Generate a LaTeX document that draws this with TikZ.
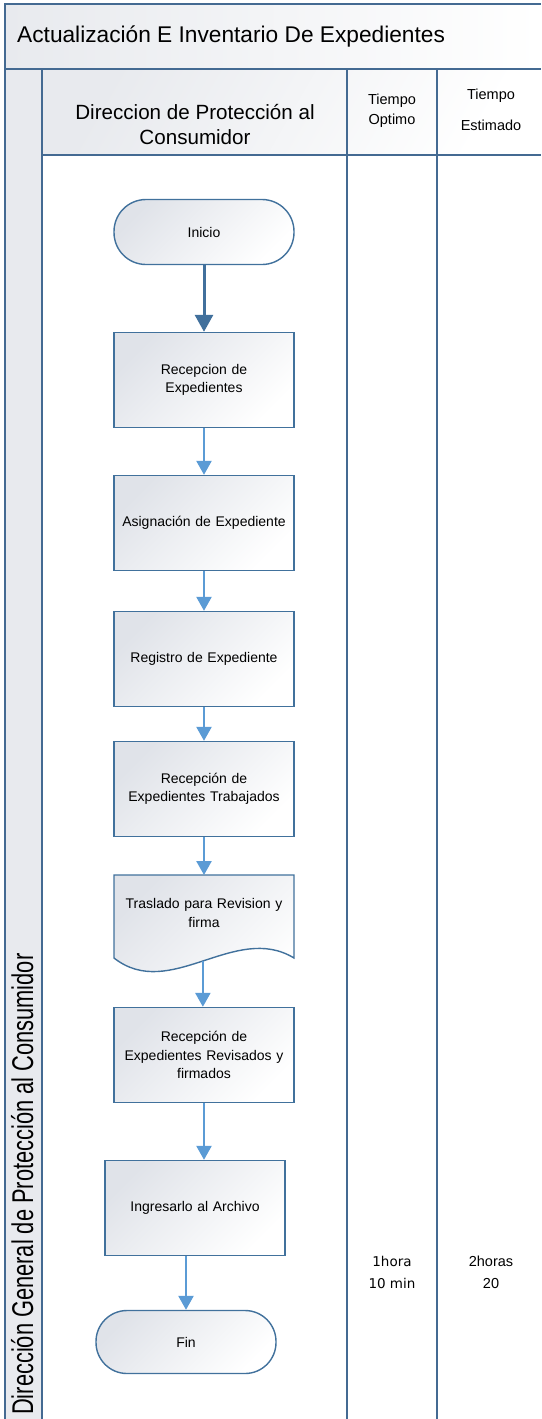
\documentclass[tikz,border=0pt]{standalone}
\usepackage{fontspec}
\setmainfont{Liberation Sans}
\newfontfamily\timefont{DejaVu Sans}
\usetikzlibrary{arrows.meta}
\definecolor{frameblue}{RGB}{68,106,146}
\definecolor{boxedge}{RGB}{65,113,156}
\definecolor{darkarrow}{RGB}{65,112,156}
\definecolor{lightarrow}{RGB}{91,155,213}
\definecolor{shadegray}{RGB}{224,227,233}
\definecolor{bandgray}{RGB}{232,234,238}

\begin{document}
\begin{tikzpicture}[x=1pt,y=-1pt,
  stepbox/.style={draw=boxedge, line width=1.4pt, minimum width=180pt,
    minimum height=95pt, top color=shadegray, bottom color=white,
    shading angle=45, align=center, text width=170pt, inner sep=0pt,
    font=\fontsize{14}{18.5}\selectfont},
  terminal/.style={stepbox, minimum height=65pt, rounded corners=32pt},
  flow/.style={draw=lightarrow, line width=2.5pt,
    -{Triangle[width=15pt,length=14pt]}},
  flowdark/.style={draw=darkarrow, line width=3pt,
    -{Triangle[width=18pt,length=17pt]}},
  frame/.style={draw=frameblue, line width=2pt},
  label/.style={inner sep=0pt, align=center}]

\useasboundingbox (0,0) rectangle (541,1419);

% swimlane backgrounds
\shade[left color=bandgray, right color=white] (5,4) rectangle (541,69);
\shade[top color=bandgray, bottom color=white, shading angle=60] (42,69) rectangle (541,155);
\fill[bandgray] (5,69) rectangle (42,1419);

% swimlane frame
\draw[frame] (5,1419) -- (5,4) -- (541,4);
\draw[frame] (5,69) -- (541,69);
\draw[frame] (42,69) -- (42,1419);
\draw[frame] (42,155) -- (541,155);
\draw[frame] (347,69) -- (347,1419);
\draw[frame] (437,69) -- (437,1419);

% titles
\node[label, anchor=west, font=\fontsize{22.7}{27}\selectfont] (title) at (17,36)
  {Actualización E Inventario De Expedientes};
\node[label, font=\fontsize{20.6}{25}\selectfont] (lanehead) at (195,125)
  {Direccion de Protección al\\Consumidor};
\node[label, font=\fontsize{14.5}{20}\selectfont] (optimohead) at (392,111)
  {Tiempo\\Optimo};
\node[label, font=\fontsize{14.5}{31}\selectfont] (estimadohead) at (491,110)
  {Tiempo\\Estimado};
\node[inner sep=0pt, rotate=90, anchor=base west, font=\fontsize{30}{36}\selectfont]
  (lanelabel) at (33,1415)
  {\scalebox{0.728}[1]{Dirección General de Protección al Consumidor}};

% process steps
\node[terminal] (inicio) at (204,232) {Inicio};
\node[stepbox] (recep) at (204,380) {Recepcion de\\Expedientes};
\node[stepbox] (asign) at (204,523) {Asignación de Expediente};
\node[stepbox] (registro) at (204,659) {Registro de Expediente};
\node[stepbox] (trabajados) at (204,789) {Recepción de\\Expedientes Trabajados};

% document shape with wavy bottom
\shade[top color=shadegray, bottom color=white, shading angle=45]
  (114,875) -- (294,875) -- (294,958)
  .. controls (235,922) and (170,1002) .. (114,958) -- cycle;
\draw[draw=boxedge, line width=1.4pt]
  (114,875) -- coordinate[pos=0.5] (doctop) (294,875) -- (294,958)
  .. controls (235,922) and (170,1002) .. (114,958) coordinate[pos=0.5] (wave) -- cycle;
\node[label, text width=170pt, font=\fontsize{14}{18.5}\selectfont] (traslado) at (204,913)
  {Traslado para Revision y\\firma};

\node[stepbox] (revisados) at (204,1055) {Recepción de\\Expedientes Revisados y\\firmados};
\node[stepbox] (ingresar) at (195,1208) {Ingresarlo al Archivo};
\node[terminal, minimum height=63pt, rounded corners=31pt] (fin) at (186,1342) {Fin};

% connectors
\draw[flowdark] (inicio) -- (recep);
\draw[flow] (recep) -- (asign);
\draw[flow] (asign) -- (registro);
\draw[flow] (registro) -- (trabajados);
\draw[flow] (trabajados) -- (doctop);
\draw[flow] (wave) -- (wave |- revisados.north);
\draw[flow] (revisados.south) -- (revisados.south |- ingresar.north);
\draw[flow] (fin.north |- ingresar.south) -- (fin.north);

% times
\node[label, font=\timefont\fontsize{13.5}{22}\selectfont] (topt) at (392,1272)
  {1hora\\10 min};
\node[label, font=\fontsize{14.5}{22}\selectfont] (test) at (491,1272)
  {2horas\\20};
\end{tikzpicture}
\end{document}
